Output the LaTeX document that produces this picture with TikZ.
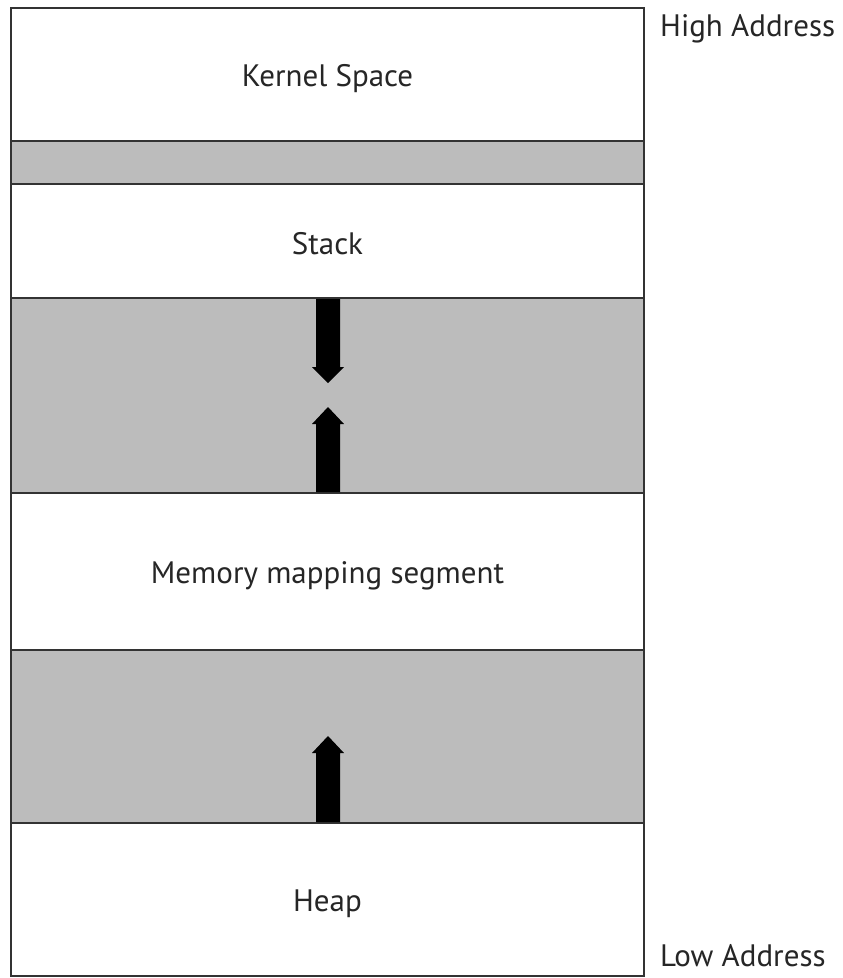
\documentclass[tikz,border=0pt]{standalone}
\usepackage{fontspec}
\setmainfont{PT Sans}
\definecolor{segfill}{HTML}{BCBCBC}
\definecolor{segline}{HTML}{333333}
\tikzset{
  seg/.style={draw=segline, line width=2.6pt, rectangle, inner sep=0pt, minimum width=633pt},
  freeseg/.style={seg, fill=segfill},
  usedseg/.style={seg, fill=white},
  segtext/.style={inner sep=0pt, font=\fontsize{31}{34}\selectfont, text=black!85},
  addr/.style={anchor=west, inner sep=0pt, font=\fontsize{31}{34}\selectfont, text=black!85},
  growarrow/.style={fill=black, draw=none}
}
\begin{document}
\begin{tikzpicture}[x=1pt,y=-1pt]
\useasboundingbox (0,0) rectangle (843,978);
\fill[white] (0,0) rectangle (843,978);
\node[usedseg, minimum height=133pt] (kernel) at (327.5,74.5) {};
\node[freeseg, minimum height=43pt] (gapa) at (327.5,162.5) {};
\node[usedseg, minimum height=114pt] (stack) at (327.5,241) {};
\node[freeseg, minimum height=195pt] (gapb) at (327.5,395.5) {};
\node[usedseg, minimum height=157pt] (mmap) at (327.5,571.5) {};
\node[freeseg, minimum height=173pt] (gapc) at (327.5,736.5) {};
\node[usedseg, minimum height=153pt] (heap) at (327.5,899.5) {};
\node[segtext] (kerneltext) at ([yshift=-4pt]kernel.center) {Kernel Space};
\node[segtext] (stacktext) at ([yshift=-3pt]stack.center) {Stack};
\node[segtext] (mmaptext) at ([yshift=-4pt]mmap.center) {Memory mapping segment};
\node[segtext] (heaptext) at ([yshift=-4pt]heap.center) {Heap};
% arrows
\fill[growarrow] (316,299) -- (340,299) -- (340,367) -- (344,367) -- (328,383) -- (312,367) -- (316,367) -- cycle;
\fill[growarrow] (316,492) -- (340,492) -- (340,424) -- (344,424) -- (328,407) -- (312,424) -- (316,424) -- cycle;
\fill[growarrow] (316,822) -- (340,822) -- (340,753) -- (344,753) -- (328,736) -- (312,753) -- (316,753) -- cycle;
\node[addr] (high) at (660,29) {High Address};
\node[addr] (low) at (660,956) {Low Address};
\end{tikzpicture}
\end{document}
